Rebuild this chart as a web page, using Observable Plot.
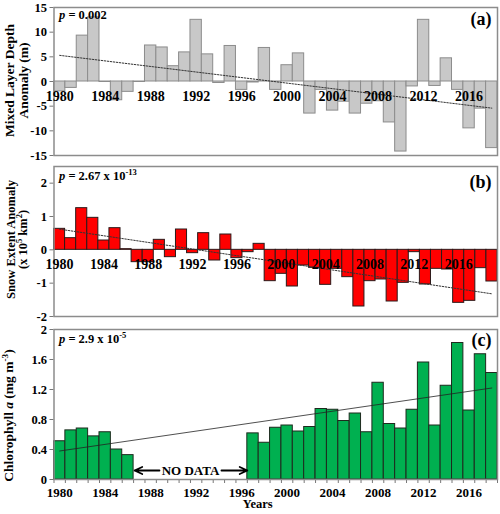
<!DOCTYPE html>
<html><head><meta charset="utf-8">
<script src="https://cdn.jsdelivr.net/npm/d3@7"></script>
<script src="https://cdn.jsdelivr.net/npm/@observablehq/plot@0.6"></script>
<style>
body{margin:0;background:#fff;}
#chart{width:500px;}
#chart svg{display:block;}
g[aria-label^="y-axis"] line, g[aria-label^="y-axis"] path, g[aria-label^="x-axis"] line, g[aria-label^="x-axis"] path {stroke:#777;}
</style></head><body><div id="chart"></div>
<script>
// ---- data ----
const yearsA = d3.range(1980, 2019);           // 1980–2018
const yearsB = d3.range(1980, 2020);           // 1980–2019
const yearsC = d3.range(1980, 2019);           // 1980–2018
const labelYears = [1980, 1984, 1988, 1992, 1996, 2000, 2004, 2008, 2012, 2016];

// (a) Mixed layer depth anomaly (m)
const mld = [-2.0, -1.3, 9.3, 13.0, -0.1, -3.8, -2.1, -0.1, 7.3, 6.9,
             3.1, 5.9, 12.5, 5.5, -0.3, 7.2, -1.7, -0.2, 6.8, -1.7,
             3.3, 5.7, -6.5, -1.7, -5.9, -4.1, -6.5, -4.5, -4.0, -8.3,
             -14.2, -1.0, 12.5, -0.9, 4.7, -1.7, -9.5, -5.5, -13.5];
const mldTrend = [5.3, -5.4];          // at first and last year
const mldTicks = [-15, -10, -5, 0, 5, 10, 15];

// (b) Snow extent anomaly (x 10^5 km^2)
const snow = [0.63, 0.35, 1.25, 0.96, 0.28, 0.65, 0.02, -0.37, -0.37, 0.30,
              -0.22, 0.61, -0.10, 0.50, -0.32, 0.46, -0.25, -0.07, 0.18, -0.94,
              -0.72, -1.10, -0.47, -0.54, -1.05, -0.57, -0.82, -1.70, -0.94, -0.89,
              -1.55, -0.99, -0.07, -1.04, -0.57, -0.59, -1.59, -1.53, -0.55, -0.95];
const snowTrend = [0.62, -1.32];
const snowTicks = [-2, -1, 0, 1, 2];

// (c) Chlorophyll a (mg m^-3), null = no data
const chl = [0.51, 0.655, 0.68, 0.575, 0.63, 0.40, 0.325,
             null, null, null, null, null, null, null, null, null, null,
             0.615, 0.49, 0.69, 0.72, 0.64, 0.70, 0.94, 0.93, 0.78, 0.88,
             0.63, 1.29, 0.74, 0.68, 0.93, 1.56, 0.72, 1.25, 1.82, 0.92,
             1.67, 1.42];
const chlTrend = [0.38, 1.22];
const chlTicks = [0, 0.4, 0.8, 1.2, 1.6, 2];

const pA = "p = 0.002", pB = "p = 2.67 x 10-13", pC = "p = 2.9 x 10-5";
const titleA = "Mixed Layer Depth\nAnomaly (m)";
const titleB = "Snow Extent Anomaly\n(x 105 km2)";
const titleC = "Chlorophyll a (mg m-3)";

// ---- helpers ----
const FONT = "'Liberation Serif', 'Times New Roman', serif";
const baseStyle = {fontFamily: FONT, fontSize: "12.5px", fontWeight: "bold", background: "white", overflow: "visible"};
const rows = (ys, vs) => ys.map((year, i) => ({year, v: vs[i]})).filter(d => d.v != null);
const trendRows = (ys, t) => [{year: ys[0], v: t[0]}, {year: ys[ys.length - 1], v: t[1]}];
const W = 500, ML = 53.5, MR = 3;

function panel({years, values, trend, ticks, domain, fill, stroke, trendStyle, height, mt, mb, pText, pDy, tag, tagDy, title, titleDx, titleDy, titleSize, bottomAxis, labelDy = 15, labelSize = 14, extra = []}) {
  const data = rows(years, values);
  const x0 = years[0], x1 = years[years.length - 1] + 1;
  return Plot.plot({
    width: W, height, marginLeft: ML, marginRight: MR, marginTop: mt, marginBottom: mb,
    style: baseStyle,
    x: bottomAxis
      ? {domain: [x0, x1], ticks: d3.range(x0, x1 + 1), tickFormat: () => "", tickSize: 4, label: null}
      : {domain: [x0, x1], axis: null},
    y: {domain, ticks, tickFormat: d => String(d), tickSize: 4, tickPadding: 3, label: null},
    marks: [
      Plot.rect(data, {x1: "year", x2: d => d.year + 1, y1: 0, y2: "v", fill, stroke, strokeWidth: 1}),
      Plot.line(trendRows(years, trend), {x: d => d.year + 0.5, y: "v", ...trendStyle}),
      Plot.frame({stroke: "#8c8c8c", strokeWidth: 1.5}),
      Plot.text(labelYears, {x: d => d + 0.5, y: 0, dy: labelDy, text: d => String(d), fontSize: labelSize}),
      Plot.text([pText], {text: d => d, frameAnchor: "top-left", dx: 5, dy: pDy, lineAnchor: "top", textAnchor: "start", fontSize: 12.5}),
      Plot.text([tag], {text: d => d, frameAnchor: "top-right", dx: -6, dy: tagDy, lineAnchor: "top", textAnchor: "end", fontSize: 18}),
      Plot.text([title], {text: d => d, frameAnchor: "left", rotate: -90, dx: titleDx, dy: titleDy, lineHeight: 1.0, fontSize: titleSize, textAnchor: "middle", lineAnchor: "middle"}),
      ...extra
    ]
  });
}

const gapStart = yearsC[chl.indexOf(null)];
const gapEnd = yearsC[chl.lastIndexOf(null)] + 1;
const gapMid = (gapStart + gapEnd) / 2;

const plotA = panel({years: yearsA, values: mld, trend: mldTrend, ticks: mldTicks, domain: [-15, 15],
  fill: "#c8c8c8", stroke: "#8c8c8c", trendStyle: {stroke: "#333", strokeWidth: 1, strokeDasharray: "1.5,1.5"},
  height: 161, mt: 7, mb: 6, pText: pA, pDy: 3, tag: "(a)", tagDy: 5, title: titleA, titleDx: -37.5, titleDy: -1, titleSize: 13.5});

const plotB = panel({years: yearsB, values: snow, trend: snowTrend, ticks: snowTicks, domain: [-2, 2.5],
  fill: "#ff0000", stroke: "#2a1a1a", trendStyle: {stroke: "#333", strokeWidth: 1, strokeDasharray: "1.5,1.5"},
  height: 161, mt: 5, mb: 6, pText: pB, pDy: 5, tag: "(b)", tagDy: 9, title: titleB, titleDx: -37, titleDy: -2, titleSize: 12.5});

const plotC = panel({years: yearsC, values: chl, trend: chlTrend, ticks: chlTicks, domain: [0, 2],
  fill: "#00b050", stroke: "#1e2a1e", trendStyle: {stroke: "#222", strokeWidth: 0.8},
  height: 192, mt: 7, mb: 35, pText: pC, pDy: 5, tag: "(c)", tagDy: 4, title: titleC, titleDx: -45, titleDy: 11, titleSize: 13.5,
  bottomAxis: true, labelDy: 13, labelSize: 13,
  extra: [
    Plot.arrow([0], {x1: gapMid, x2: gapStart, y1: 0, y2: 0, dy: -9, insetStart: 31, insetEnd: 1, stroke: "black", strokeWidth: 1.8, headLength: 7, headAngle: 50}),
    Plot.arrow([0], {x1: gapMid, x2: gapEnd, y1: 0, y2: 0, dy: -9, insetStart: 31, insetEnd: 0, stroke: "black", strokeWidth: 1.8, headLength: 7, headAngle: 50}),
    Plot.text(["NO DATA"], {text: d => d, x: gapMid, y: 0, dy: -9, fontSize: 13}),
    Plot.text(["Years"], {text: d => d, frameAnchor: "bottom", dx: -18, dy: 28, fontSize: 12.5})
  ]});

const chart = document.getElementById("chart");
chart.append(plotA, plotB, plotC);

// rich text: italic symbols and superscripts
const rich = {
  [pA]: [["p", "i"], [" = 0.002"]],
  [pB]: [["p", "i"], [" = 2.67 x 10"], ["-13", "s"]],
  [pC]: [["p", "i"], [" = 2.9 x 10"], ["-5", "s"]],
  "(x 105 km2)": [["(x 10"], ["5", "s"], [" km"], ["2", "s"], [")"]],
  [titleC]: [["Chlorophyll "], ["a", "i"], [" (mg m"], ["-3", "s"], [")"]]
};
const NS = "http://www.w3.org/2000/svg";
chart.querySelectorAll("text, tspan").forEach(el => {
  if (el.children.length) return;
  const spec = rich[el.textContent];
  if (!spec) return;
  const fs = parseFloat(getComputedStyle(el).fontSize) || 13;
  el.textContent = "";
  let raised = false;
  for (const [t, kind] of spec) {
    const ts = document.createElementNS(NS, "tspan");
    ts.textContent = t;
    if (kind === "i") ts.setAttribute("font-style", "italic");
    if (kind === "s") {
      ts.setAttribute("font-size", (fs * 0.68) + "px");
      if (!raised) { ts.setAttribute("dy", -0.42 * fs); raised = true; }
    } else if (raised) { ts.setAttribute("dy", 0.42 * fs); raised = false; }
    el.appendChild(ts);
  }
});
</script></body></html>
